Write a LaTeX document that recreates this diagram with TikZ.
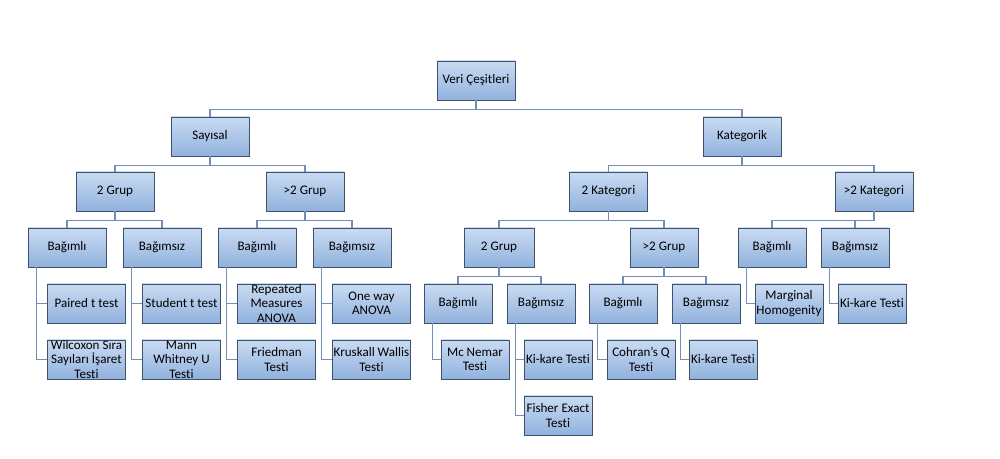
\documentclass[tikz,border=0pt]{standalone}
\usepackage{fontspec}
\setmainfont[Ligatures=NoCommon]{Carlito}
\definecolor{boxtop}{RGB}{201,219,242}
\definecolor{boxbot}{RGB}{145,178,221}
\definecolor{boxline}{RGB}{62,82,110}
\definecolor{linkcol}{RGB}{112,143,184}
\tikzset{
  box/.style={draw=boxline,line width=0.7pt,top color=boxtop,bottom color=boxbot,
    minimum width=58.5pt,minimum height=29.25pt,inner sep=0pt,align=center,
    font=\fontsize{9.8}{10.9}\selectfont},
  narrow/.style={box,minimum width=51pt},
  link/.style={draw=linkcol,line width=1pt}
}
\begin{document}
\begin{tikzpicture}[x=0.75pt,y=-0.75pt]
  \useasboundingbox (0,0) rectangle (1000,459);
  % top levels
  \node[box] (veri) at (476,80.5) {Veri Çeşitleri};
  \node[box] (say) at (210,136.5) {Sayısal};
  \node[box] (kat) at (742,136.5) {Kategorik};
  \node[box] (s2) at (115,191.5) {2 Grup};
  \node[box] (s3) at (305,191.5) {>2 Grup};
  \node[box] (k2) at (608.5,191.5) {2 Kategori};
  \node[box] (k3) at (874,191.5) {>2 Kategori};
  % level 4
  \node[box] (s2b) at (67,247.5) {Bağımlı};
  \node[box] (s2i) at (162,247.5) {Bağımsız};
  \node[box] (s3b) at (257,247.5) {Bağımlı};
  \node[box] (s3i) at (352,247.5) {Bağımsız};
  \node[narrow,minimum width=52.5pt] (k2g) at (499,247.5) {2 Grup};
  \node[narrow] (k3g) at (664,247.5) {>2 Grup};
  \node[narrow] (k3b) at (772,247.5) {Bağımlı};
  \node[narrow] (k3i) at (855,247.5) {Bağımsız};
  % level 5
  \node[box,minimum width=59pt] (paired) at (86.5,303.5) {Paired t test};
  \node[box,minimum width=59pt] (student) at (181.5,303.5) {Student t test};
  \node[box,minimum width=59pt] (repeated) at (276.5,303.5) {Repeated\\Measures\\ANOVA};
  \node[box,minimum width=59pt] (oneway) at (371.5,303.5) {One way\\ANOVA};
  \node[narrow] (k2gb) at (458,303.5) {Bağımlı};
  \node[narrow] (k2gi) at (541,303.5) {Bağımsız};
  \node[narrow] (k3gb) at (623,303.5) {Bağımlı};
  \node[narrow] (k3gi) at (706,303.5) {Bağımsız};
  \node[narrow] (marginal) at (789,303.5) {Marginal\\Homogenity};
  \node[narrow] (kikare3) at (872,303.5) {Ki-kare Testi};
  % level 6
  \node[box,minimum width=59pt] (wilcoxon) at (86.5,359.5) {Wilcoxon Sıra\\Sayıları İşaret\\Testi};
  \node[box,minimum width=59pt] (mann) at (181.5,359.5) {Mann\\Whitney U\\Testi};
  \node[box,minimum width=59pt] (friedman) at (276.5,359.5) {Friedman\\Testi};
  \node[box,minimum width=59pt] (kruskal) at (371.5,359.5) {Kruskall Wallis\\Testi};
  \node[narrow] (mcnemar) at (475,359.5) {Mc Nemar\\Testi};
  \node[narrow] (kikare1) at (558,359.5) {Ki-kare Testi};
  \node[narrow] (cohran) at (641,359.5) {Cohran's Q\\Testi};
  \node[narrow] (kikare2) at (723,359.5) {Ki-kare Testi};
  \node[narrow] (fisher) at (558,415.5) {Fisher Exact\\Testi};
  % tree connectors
  \foreach \p/\c in {veri/say,veri/kat,say/s2,say/s3,kat/k2,kat/k3,
                     s2/s2b,s2/s2i,s3/s3b,s3/s3i,k2/k2g,k2/k3g,k3/k3b,k3/k3i,
                     k2g/k2gb,k2g/k2gi,k3g/k3gb,k3g/k3gi}
    \draw[link] (\p.south) -- ++(0,9) -| (\c.north);
  % side connectors
  \foreach \p/\c in {s2b/paired,s2b/wilcoxon,s2i/student,s2i/mann,
                     s3b/repeated,s3b/friedman,s3i/oneway,s3i/kruskal,
                     k2gb/mcnemar,k2gi/kikare1,k2gi/fisher,k3gb/cohran,
                     k3gi/kikare2,k3b/marginal,k3i/kikare3}
    \draw[link] ([xshift=6.5pt]\p.south west) |- (\c.west);
\end{tikzpicture}
\end{document}
